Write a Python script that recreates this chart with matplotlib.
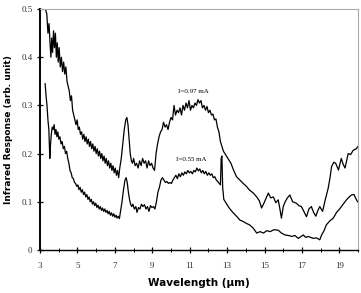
import matplotlib
matplotlib.use("Agg")
import matplotlib.pyplot as plt
from matplotlib.ticker import MultipleLocator, FixedLocator

# I = 0.97 mA 光谱响应 (波长, 响应)
upper_pts = [
    (3.30, 0.498), (3.36, 0.490), (3.42, 0.450), (3.48, 0.470), (3.53, 0.430), (3.58, 0.400),
    (3.62, 0.440), (3.67, 0.410), (3.72, 0.455), (3.77, 0.420), (3.82, 0.450), (3.87, 0.400),
    (3.92, 0.430), (3.97, 0.390), (4.02, 0.420), (4.08, 0.380), (4.14, 0.400), (4.20, 0.370),
    (4.26, 0.390), (4.32, 0.365), (4.38, 0.380), (4.44, 0.350), (4.50, 0.340), (4.56, 0.330),
    (4.62, 0.310), (4.68, 0.320), (4.74, 0.290), (4.80, 0.280), (4.86, 0.270), (4.92, 0.260),
    (4.98, 0.270), (5.04, 0.250), (5.10, 0.255), (5.16, 0.240), (5.22, 0.245), (5.28, 0.230),
    (5.34, 0.240), (5.40, 0.225), (5.46, 0.235), (5.52, 0.220), (5.58, 0.230), (5.64, 0.215),
    (5.70, 0.225), (5.76, 0.210), (5.82, 0.220), (5.88, 0.205), (5.94, 0.215), (6.00, 0.200),
    (6.06, 0.210), (6.12, 0.195), (6.18, 0.205), (6.24, 0.190), (6.30, 0.200), (6.36, 0.185),
    (6.42, 0.195), (6.48, 0.180), (6.54, 0.190), (6.60, 0.175), (6.66, 0.185), (6.72, 0.170),
    (6.78, 0.180), (6.84, 0.165), (6.90, 0.175), (6.96, 0.160), (7.02, 0.170), (7.08, 0.155),
    (7.14, 0.165), (7.20, 0.150), (7.26, 0.170), (7.34, 0.190), (7.42, 0.220), (7.50, 0.250),
    (7.58, 0.270), (7.64, 0.275), (7.70, 0.260), (7.76, 0.230), (7.82, 0.200), (7.88, 0.185),
    (7.94, 0.180), (8.00, 0.190), (8.08, 0.175), (8.16, 0.180), (8.24, 0.170), (8.32, 0.185),
    (8.40, 0.175), (8.48, 0.190), (8.56, 0.180), (8.64, 0.185), (8.72, 0.170), (8.80, 0.185),
    (8.88, 0.175), (8.96, 0.180), (9.04, 0.170), (9.12, 0.165), (9.20, 0.200), (9.28, 0.220),
    (9.36, 0.235), (9.44, 0.245), (9.52, 0.250), (9.60, 0.265), (9.68, 0.255), (9.76, 0.260),
    (9.84, 0.250), (9.92, 0.265), (10.00, 0.275), (10.08, 0.270), (10.16, 0.300), (10.24, 0.280),
    (10.32, 0.290), (10.40, 0.285), (10.48, 0.295), (10.56, 0.280), (10.64, 0.300), (10.72, 0.290),
    (10.80, 0.305), (10.88, 0.295), (10.96, 0.310), (11.04, 0.290), (11.12, 0.300), (11.20, 0.295),
    (11.28, 0.305), (11.36, 0.300), (11.44, 0.312), (11.52, 0.305), (11.60, 0.310), (11.68, 0.295),
    (11.76, 0.300), (11.84, 0.290), (11.92, 0.298), (12.00, 0.285), (12.08, 0.290), (12.16, 0.280),
    (12.24, 0.282), (12.32, 0.270), (12.40, 0.272), (12.48, 0.255), (12.56, 0.245), (12.64, 0.225),
    (12.72, 0.215), (12.80, 0.205), (12.88, 0.200), (12.96, 0.195), (13.04, 0.190), (13.12, 0.185),
    (13.20, 0.180), (13.35, 0.165), (13.50, 0.152), (13.68, 0.145), (13.86, 0.138), (14.03, 0.132),
    (14.20, 0.124), (14.40, 0.118), (14.58, 0.110), (14.72, 0.102), (14.84, 0.087), (15.00, 0.100),
    (15.20, 0.118), (15.33, 0.108), (15.47, 0.110), (15.60, 0.098), (15.73, 0.104), (15.82, 0.085),
    (15.90, 0.066), (16.00, 0.090), (16.10, 0.100), (16.22, 0.108), (16.35, 0.114), (16.50, 0.100),
    (16.70, 0.097), (16.83, 0.092), (16.97, 0.090), (17.10, 0.080), (17.24, 0.069), (17.37, 0.085),
    (17.50, 0.090), (17.62, 0.078), (17.74, 0.070), (17.85, 0.082), (17.95, 0.090), (18.10, 0.080),
    (18.25, 0.105), (18.40, 0.128), (18.50, 0.150), (18.58, 0.173), (18.70, 0.182), (18.80, 0.180),
    (18.95, 0.166), (19.10, 0.190), (19.20, 0.178), (19.30, 0.170), (19.47, 0.200), (19.60, 0.198),
    (19.74, 0.207), (19.90, 0.210), (20.00, 0.215),
]

# I = 0.55 mA
lower_pts = [
    (3.27, 0.345), (3.32, 0.320), (3.37, 0.300), (3.42, 0.270), (3.47, 0.250), (3.52, 0.190),
    (3.56, 0.220), (3.60, 0.240), (3.65, 0.255), (3.70, 0.250), (3.75, 0.260), (3.80, 0.240),
    (3.85, 0.250), (3.90, 0.235), (3.95, 0.245), (4.00, 0.230), (4.06, 0.235), (4.12, 0.220),
    (4.18, 0.225), (4.24, 0.210), (4.30, 0.215), (4.36, 0.200), (4.42, 0.205), (4.48, 0.190),
    (4.54, 0.180), (4.60, 0.165), (4.66, 0.160), (4.72, 0.150), (4.78, 0.148), (4.84, 0.140),
    (4.90, 0.138), (4.96, 0.132), (5.02, 0.135), (5.08, 0.125), (5.14, 0.130), (5.20, 0.120),
    (5.26, 0.125), (5.32, 0.115), (5.38, 0.120), (5.44, 0.110), (5.50, 0.115), (5.56, 0.105),
    (5.62, 0.110), (5.68, 0.100), (5.74, 0.105), (5.80, 0.095), (5.86, 0.100), (5.92, 0.092),
    (5.98, 0.097), (6.04, 0.088), (6.10, 0.093), (6.16, 0.085), (6.22, 0.090), (6.28, 0.082),
    (6.34, 0.087), (6.40, 0.080), (6.46, 0.085), (6.52, 0.078), (6.58, 0.082), (6.64, 0.075),
    (6.70, 0.080), (6.76, 0.072), (6.82, 0.077), (6.88, 0.070), (6.94, 0.075), (7.00, 0.068),
    (7.06, 0.072), (7.12, 0.066), (7.18, 0.070), (7.24, 0.065), (7.30, 0.080), (7.38, 0.100),
    (7.46, 0.125), (7.54, 0.145), (7.60, 0.150), (7.66, 0.140), (7.72, 0.120), (7.78, 0.105),
    (7.84, 0.095), (7.90, 0.090), (7.96, 0.095), (8.04, 0.085), (8.12, 0.090), (8.18, 0.078),
    (8.26, 0.088), (8.34, 0.085), (8.42, 0.095), (8.50, 0.090), (8.58, 0.094), (8.66, 0.085),
    (8.74, 0.090), (8.82, 0.080), (8.90, 0.092), (8.98, 0.088), (9.06, 0.090), (9.14, 0.085),
    (9.22, 0.100), (9.30, 0.120), (9.38, 0.130), (9.46, 0.145), (9.54, 0.150), (9.62, 0.145),
    (9.70, 0.140), (9.78, 0.142), (9.86, 0.138), (9.94, 0.140), (10.02, 0.138), (10.10, 0.145),
    (10.18, 0.150), (10.26, 0.155), (10.34, 0.148), (10.42, 0.158), (10.50, 0.152), (10.58, 0.160),
    (10.66, 0.155), (10.74, 0.162), (10.82, 0.158), (10.90, 0.165), (10.98, 0.160), (11.06, 0.163),
    (11.14, 0.158), (11.22, 0.165), (11.30, 0.162), (11.38, 0.170), (11.46, 0.164), (11.54, 0.168),
    (11.62, 0.160), (11.70, 0.165), (11.78, 0.158), (11.86, 0.163), (11.94, 0.155), (12.02, 0.160),
    (12.10, 0.155), (12.18, 0.158), (12.26, 0.150), (12.34, 0.152), (12.42, 0.145), (12.50, 0.142),
    (12.58, 0.138), (12.64, 0.135), (12.68, 0.190), (12.72, 0.195), (12.76, 0.130), (12.82, 0.105),
    (12.90, 0.100), (12.98, 0.095), (13.06, 0.090), (13.15, 0.085), (13.30, 0.078), (13.50, 0.070),
    (13.68, 0.062), (13.86, 0.059), (14.03, 0.055), (14.20, 0.052), (14.40, 0.045), (14.58, 0.035),
    (14.76, 0.038), (14.94, 0.035), (15.12, 0.040), (15.30, 0.038), (15.50, 0.042), (15.73, 0.041),
    (15.90, 0.035), (16.10, 0.031), (16.28, 0.030), (16.45, 0.028), (16.62, 0.030), (16.80, 0.024),
    (16.95, 0.028), (17.07, 0.031), (17.20, 0.026), (17.33, 0.028), (17.46, 0.026), (17.60, 0.024),
    (17.78, 0.025), (17.95, 0.021), (18.05, 0.031), (18.18, 0.040), (18.30, 0.052), (18.48, 0.060),
    (18.67, 0.066), (18.85, 0.078), (19.03, 0.086), (19.20, 0.095), (19.38, 0.104), (19.52, 0.110),
    (19.65, 0.114), (19.78, 0.115), (19.90, 0.105), (19.97, 0.100),
]

x_ticks = [3, 5, 7, 9, 11, 13, 15, 17, 19]
y_ticks = [0, 0.1, 0.2, 0.3, 0.4, 0.5]
y_tick_labels = ["0", "0.1", "0.2", "0.3", "0.4", "0.5"]

serif = "Liberation Serif"

fig = plt.figure(figsize=(3.61, 2.93), dpi=100)
ax = fig.add_axes([0.111, 0.147, 0.881, 0.822])

ux, uy = zip(*upper_pts)
lx, ly = zip(*lower_pts)
ax.plot(ux, uy, color="black", lw=0.9)
ax.plot(lx, ly, color="black", lw=0.9)

ax.text(11.2, 0.328, "I=0.97 mA", fontsize=5, family=serif, ha="center", va="center")
ax.text(11.1, 0.187, "I=0.55 mA", fontsize=5, family=serif, ha="center", va="center")

ax.set_xlim(3, 20)
ax.set_ylim(0, 0.5)

# 刻度
ax.xaxis.set_major_locator(FixedLocator(x_ticks))
ax.xaxis.set_minor_locator(MultipleLocator(1))
ax.yaxis.set_major_locator(FixedLocator(y_ticks))
ax.set_yticklabels(y_tick_labels)
ax.tick_params(which="major", direction="inout", length=5, width=0.9, labelsize=6.5, pad=6)
ax.tick_params(which="minor", direction="inout", length=3, width=0.7)
ax.tick_params(axis="y", pad=3)
for lab in ax.get_xticklabels() + ax.get_yticklabels():
    lab.set_family(serif)
    lab.set_color("#333333")

ax.spines["left"].set_linewidth(1.4)
ax.spines["bottom"].set_linewidth(1.0)
ax.spines["top"].set_color("#aaaaaa")
ax.spines["right"].set_color("#aaaaaa")
ax.spines["top"].set_linewidth(0.8)
ax.spines["right"].set_linewidth(0.8)

ax.set_xlabel("Wavelength (\u00b5m)", fontsize=7.5, fontweight="bold", labelpad=6)
ax.set_ylabel("Infrared Response (arb. unit)", fontsize=6.5, fontweight="bold", labelpad=6)

fig.savefig("out.png", dpi=100)
